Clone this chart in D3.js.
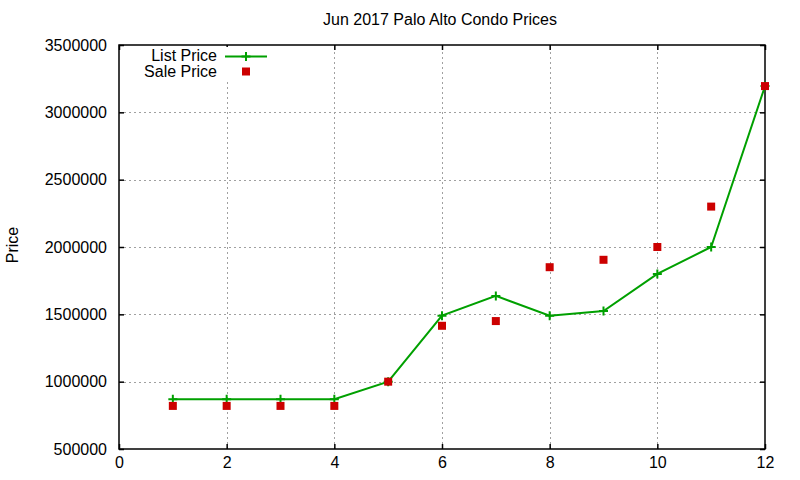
<!DOCTYPE html>
<html>
<head>
<meta charset="utf-8">
<script src="https://cdn.jsdelivr.net/npm/d3@7"></script>
<style>
  body { margin: 0; background: #fff; }
  svg text { font-family: "Liberation Sans", Arial, sans-serif; fill: #000; }
</style>
</head>
<body>
<div id="chart"></div>
<script>
// chart data
const months = [1, 2, 3, 4, 5, 6, 7, 8, 9, 10, 11, 12];
const listPrice = [870000, 870000, 870000, 870000, 1000000, 1490000, 1637000, 1490000, 1525000, 1800000, 2000000, 3195000];
const salePrice = [820000, 820000, 820000, 820000, 1000000, 1415000, 1450000, 1850000, 1905000, 2000000, 2300000, 3195000];
const xTicks = [0, 2, 4, 6, 8, 10, 12];
const yTicks = [500000, 1000000, 1500000, 2000000, 2500000, 3000000, 3500000];

const width = 800, height = 480;
const margin = { top: 45, right: 35, bottom: 31, left: 119 };

const svg = d3.select('#chart').append('svg')
    .attr('width', width)
    .attr('height', height);

const x = d3.scaleLinear().domain([0, 12]).range([margin.left, width - margin.right]);
const y = d3.scaleLinear().domain([500000, 3500000]).range([height - margin.bottom, margin.top]);

const x0 = x.range()[0], x1 = x.range()[1];
const y0 = y.range()[0], y1 = y.range()[1];

// grid
const grid = svg.append('g')
    .attr('stroke', '#a0a0a0')
    .attr('stroke-width', 1)
    .attr('stroke-dasharray', '2,3');
grid.selectAll('.gx').data(xTicks.slice(1, -1)).enter().append('line')
    .attr('x1', d => Math.round(x(d)) + 0.5).attr('x2', d => Math.round(x(d)) + 0.5)
    .attr('y1', y0).attr('y2', y1);
grid.selectAll('.gy').data(yTicks.slice(1, -1)).enter().append('line')
    .attr('y1', d => Math.round(y(d)) + 0.5).attr('y2', d => Math.round(y(d)) + 0.5)
    .attr('x1', x0).attr('x2', x1);

// axes with inward ticks, mirrored
const fmt = d3.format('d');
svg.append('g')
    .attr('transform', `translate(0,${y0})`)
    .call(d3.axisBottom(x).tickValues(xTicks).tickSize(-5).tickPadding(8).tickFormat(fmt))
    .call(g => g.select('.domain').remove());
svg.append('g')
    .attr('transform', `translate(0,${y1})`)
    .call(d3.axisTop(x).tickValues(xTicks).tickSize(-5).tickFormat(''))
    .call(g => g.select('.domain').remove());
svg.append('g')
    .attr('transform', `translate(${x0},0)`)
    .call(d3.axisLeft(y).tickValues(yTicks).tickSize(-5).tickPadding(12).tickFormat(fmt))
    .call(g => g.select('.domain').remove());
svg.append('g')
    .attr('transform', `translate(${x1},0)`)
    .call(d3.axisRight(y).tickValues(yTicks).tickSize(-5).tickFormat(''))
    .call(g => g.select('.domain').remove());

svg.selectAll('.tick line').attr('stroke', '#000').attr('stroke-width', 1.5);
svg.selectAll('.tick text').style('font-size', '16px');

// border
svg.append('rect')
    .attr('x', x0).attr('y', y1)
    .attr('width', x1 - x0).attr('height', y0 - y1)
    .attr('fill', 'none').attr('stroke', '#000').attr('stroke-width', 1.5);

// legend
const legend = svg.append('g');
legend.append('rect')
    .attr('x', 125).attr('y', 47).attr('width', 150).attr('height', 34)
    .attr('fill', '#fff');
legend.append('text').attr('x', 217).attr('y', 61).attr('text-anchor', 'end')
    .style('font-size', '16px').text('List Price');
legend.append('text').attr('x', 217).attr('y', 77).attr('text-anchor', 'end')
    .style('font-size', '16px').text('Sale Price');
legend.append('line').attr('x1', 225).attr('x2', 267).attr('y1', 56.5).attr('y2', 56.5)
    .attr('stroke', '#00a000').attr('stroke-width', 2);

const green = '#00a000', red = '#cc0000';
const plus = (g, cx, cy) => {
    g.append('path')
        .attr('d', `M${cx - 4.5},${cy}H${cx + 4.5}M${cx},${cy - 4.5}V${cy + 4.5}`)
        .attr('stroke', green).attr('stroke-width', 2).attr('fill', 'none');
};
plus(legend, 246, 56.5);
legend.append('rect').attr('x', 242).attr('y', 67.5).attr('width', 8).attr('height', 8).attr('fill', red);

// list price line
const listData = months.map((m, i) => ({ m, v: listPrice[i] }));
const saleData = months.map((m, i) => ({ m, v: salePrice[i] }));

svg.append('path')
    .datum(listData)
    .attr('d', d3.line().x(d => x(d.m)).y(d => y(d.v)))
    .attr('fill', 'none')
    .attr('stroke', green)
    .attr('stroke-width', 2);

const marks = svg.append('g');
listData.forEach(d => plus(marks, x(d.m), y(d.v)));

svg.append('g').selectAll('rect').data(saleData).enter().append('rect')
    .attr('x', d => x(d.m) - 4).attr('y', d => y(d.v) - 4)
    .attr('width', 8).attr('height', 8)
    .attr('fill', red);

// titles
svg.append('text')
    .attr('x', 440).attr('y', 25)
    .attr('text-anchor', 'middle')
    .style('font-size', '16px')
    .text('Jun 2017 Palo Alto Condo Prices');
svg.append('text')
    .attr('transform', 'translate(18,245) rotate(-90)')
    .attr('text-anchor', 'middle')
    .style('font-size', '16px')
    .text('Price');
</script>
</body>
</html>
